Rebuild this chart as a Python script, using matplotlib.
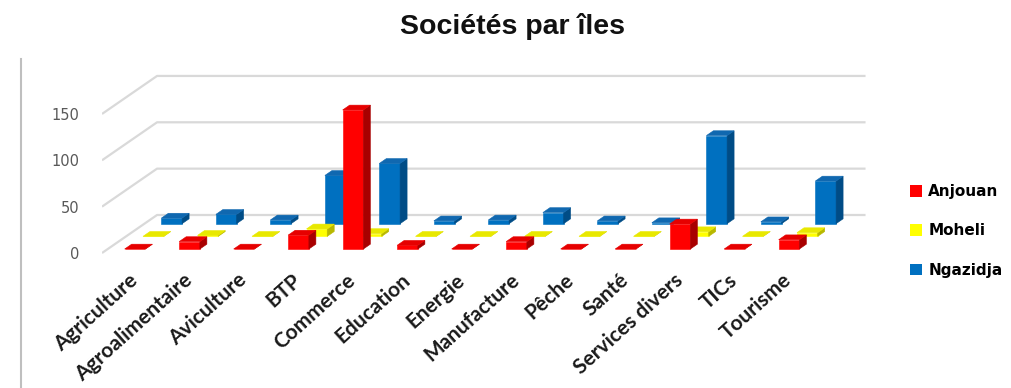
import matplotlib.pyplot as plt
from matplotlib.lines import Line2D
from matplotlib.patches import Patch, Polygon

categories = [
    "Agriculture", "Agroalimentaire", "Aviculture", "BTP", "Commerce",
    "Education", "Energie", "Manufacture", "Pêche", "Santé",
    "Services divers", "TICs", "Tourisme",
]
anjouan = [0, 8, 0, 15, 150, 4, 0, 8, 0, 0, 27, 0, 10]
moheli = [0, 1, 0, 8, 3, 0, 0, 0, 0, 0, 5, 0, 4]
ngazidja = [6, 10, 4, 52, 65, 3, 4, 12, 3, 1, 95, 2, 46]
series_names = ["Anjouan", "Moheli", "Ngazidja"]
value_ticks = [0, 50, 100, 150]

# oblique projection: depth d in [0, 1] shifts up-right
DX, DY = 1.01, 41.0
BAR_W, BAR_D = 0.38, 0.127
ROW_FRONT = [0.105, 0.438, 0.772]

# front / top / side shades per series
SHADES = [
    ("#FF0000", "#E60000", "#A80000"),
    ("#FFFF00", "#E8E800", "#B8B800"),
    ("#0070C0", "#1068B0", "#004C86"),
]


def proj(x, v, d):
    return (x + d * DX, v + d * DY)


def draw_bar(ax, x, v, d0, shades, z):
    front, top, side = shades
    x0, x1 = x - BAR_W / 2, x + BAR_W / 2
    d1 = d0 + BAR_D
    faces = [
        ([proj(x0, 0, d0), proj(x1, 0, d0), proj(x1, v, d0), proj(x0, v, d0)], front),
        ([proj(x1, 0, d0), proj(x1, 0, d1), proj(x1, v, d1), proj(x1, v, d0)], side),
        ([proj(x0, v, d0), proj(x1, v, d0), proj(x1, v, d1), proj(x0, v, d1)], top),
    ]
    for pts, color in faces:
        ax.add_patch(Polygon(pts, closed=True, facecolor=color, edgecolor=color,
                             linewidth=0.4, zorder=z))


W, H = 1012, 388
fig = plt.figure(figsize=(W / 100, H / 100), dpi=100)

# pixel layout of the plot box
px_left, px_right, py_bottom, py_top = 102, 880, 320, 55
cat_px, val_px, zero_py = 54.5, 0.927, 253
ax = fig.add_axes([px_left / W, (H - py_bottom) / H,
                   (px_right - px_left) / W, (py_bottom - py_top) / H])
ax.set_xlim(-0.5, -0.5 + (px_right - px_left) / cat_px)
ax.set_ylim((zero_py - py_bottom) / val_px, (zero_py - py_top) / val_px)
for s in ax.spines.values():
    s.set_visible(False)
ax.set_xticks([])
ax.set_yticks(value_ticks)
ax.tick_params(axis="y", length=0, pad=16.5, labelsize=10.5, labelcolor="#595959")

n = len(categories)
x_first, x_last = -0.5, n - 0.5

# side wall + back wall gridlines
for v in value_ticks:
    a = proj(x_first, v, 0)
    b = proj(x_first, v, 1)
    c = proj(x_last, v, 1)
    ax.plot([a[0], b[0], c[0]], [a[1], b[1], c[1]], color="#D9D9D9",
            linewidth=1.6, zorder=1, solid_capstyle="butt")

# back rows first so the front rows overlap them
rows = [anjouan, moheli, ngazidja]
z = 2
for r in [2, 1, 0]:
    for i, v in enumerate(rows[r]):
        draw_bar(ax, i, v, ROW_FRONT[r], SHADES[r], z)
        z += 1

for i, name in enumerate(categories):
    ax.text(i - 0.02, (zero_py - 270) / val_px, name, rotation=42,
            rotation_mode="anchor", ha="right", va="top", fontsize=15,
            fontweight="bold", family="Lato", color="#1A1A1A")

handles = [Patch(facecolor=SHADES[k][0], edgecolor="none") for k in range(3)]
fig.legend(handles, series_names, loc="upper left",
           bbox_to_anchor=(910 / W, 1 - 184 / H), frameon=False,
           prop={"family": "DejaVu Sans", "weight": "bold", "size": 11},
           handlelength=0.8, handleheight=0.8, handletextpad=0.4,
           labelspacing=1.6, borderpad=0, borderaxespad=0)

fig.text(513 / W, 1 - 26 / H, "Sociétés par îles", ha="center", va="center",
         fontsize=20.5, fontweight="bold", family="Liberation Sans", color="#111111")

fig.add_artist(Line2D([21 / W, 21 / W], [0, 1 - 59 / H], color="#BFBFBF",
                      linewidth=1.5, transform=fig.transFigure))

fig.savefig("out.png", dpi=100, facecolor="white")
